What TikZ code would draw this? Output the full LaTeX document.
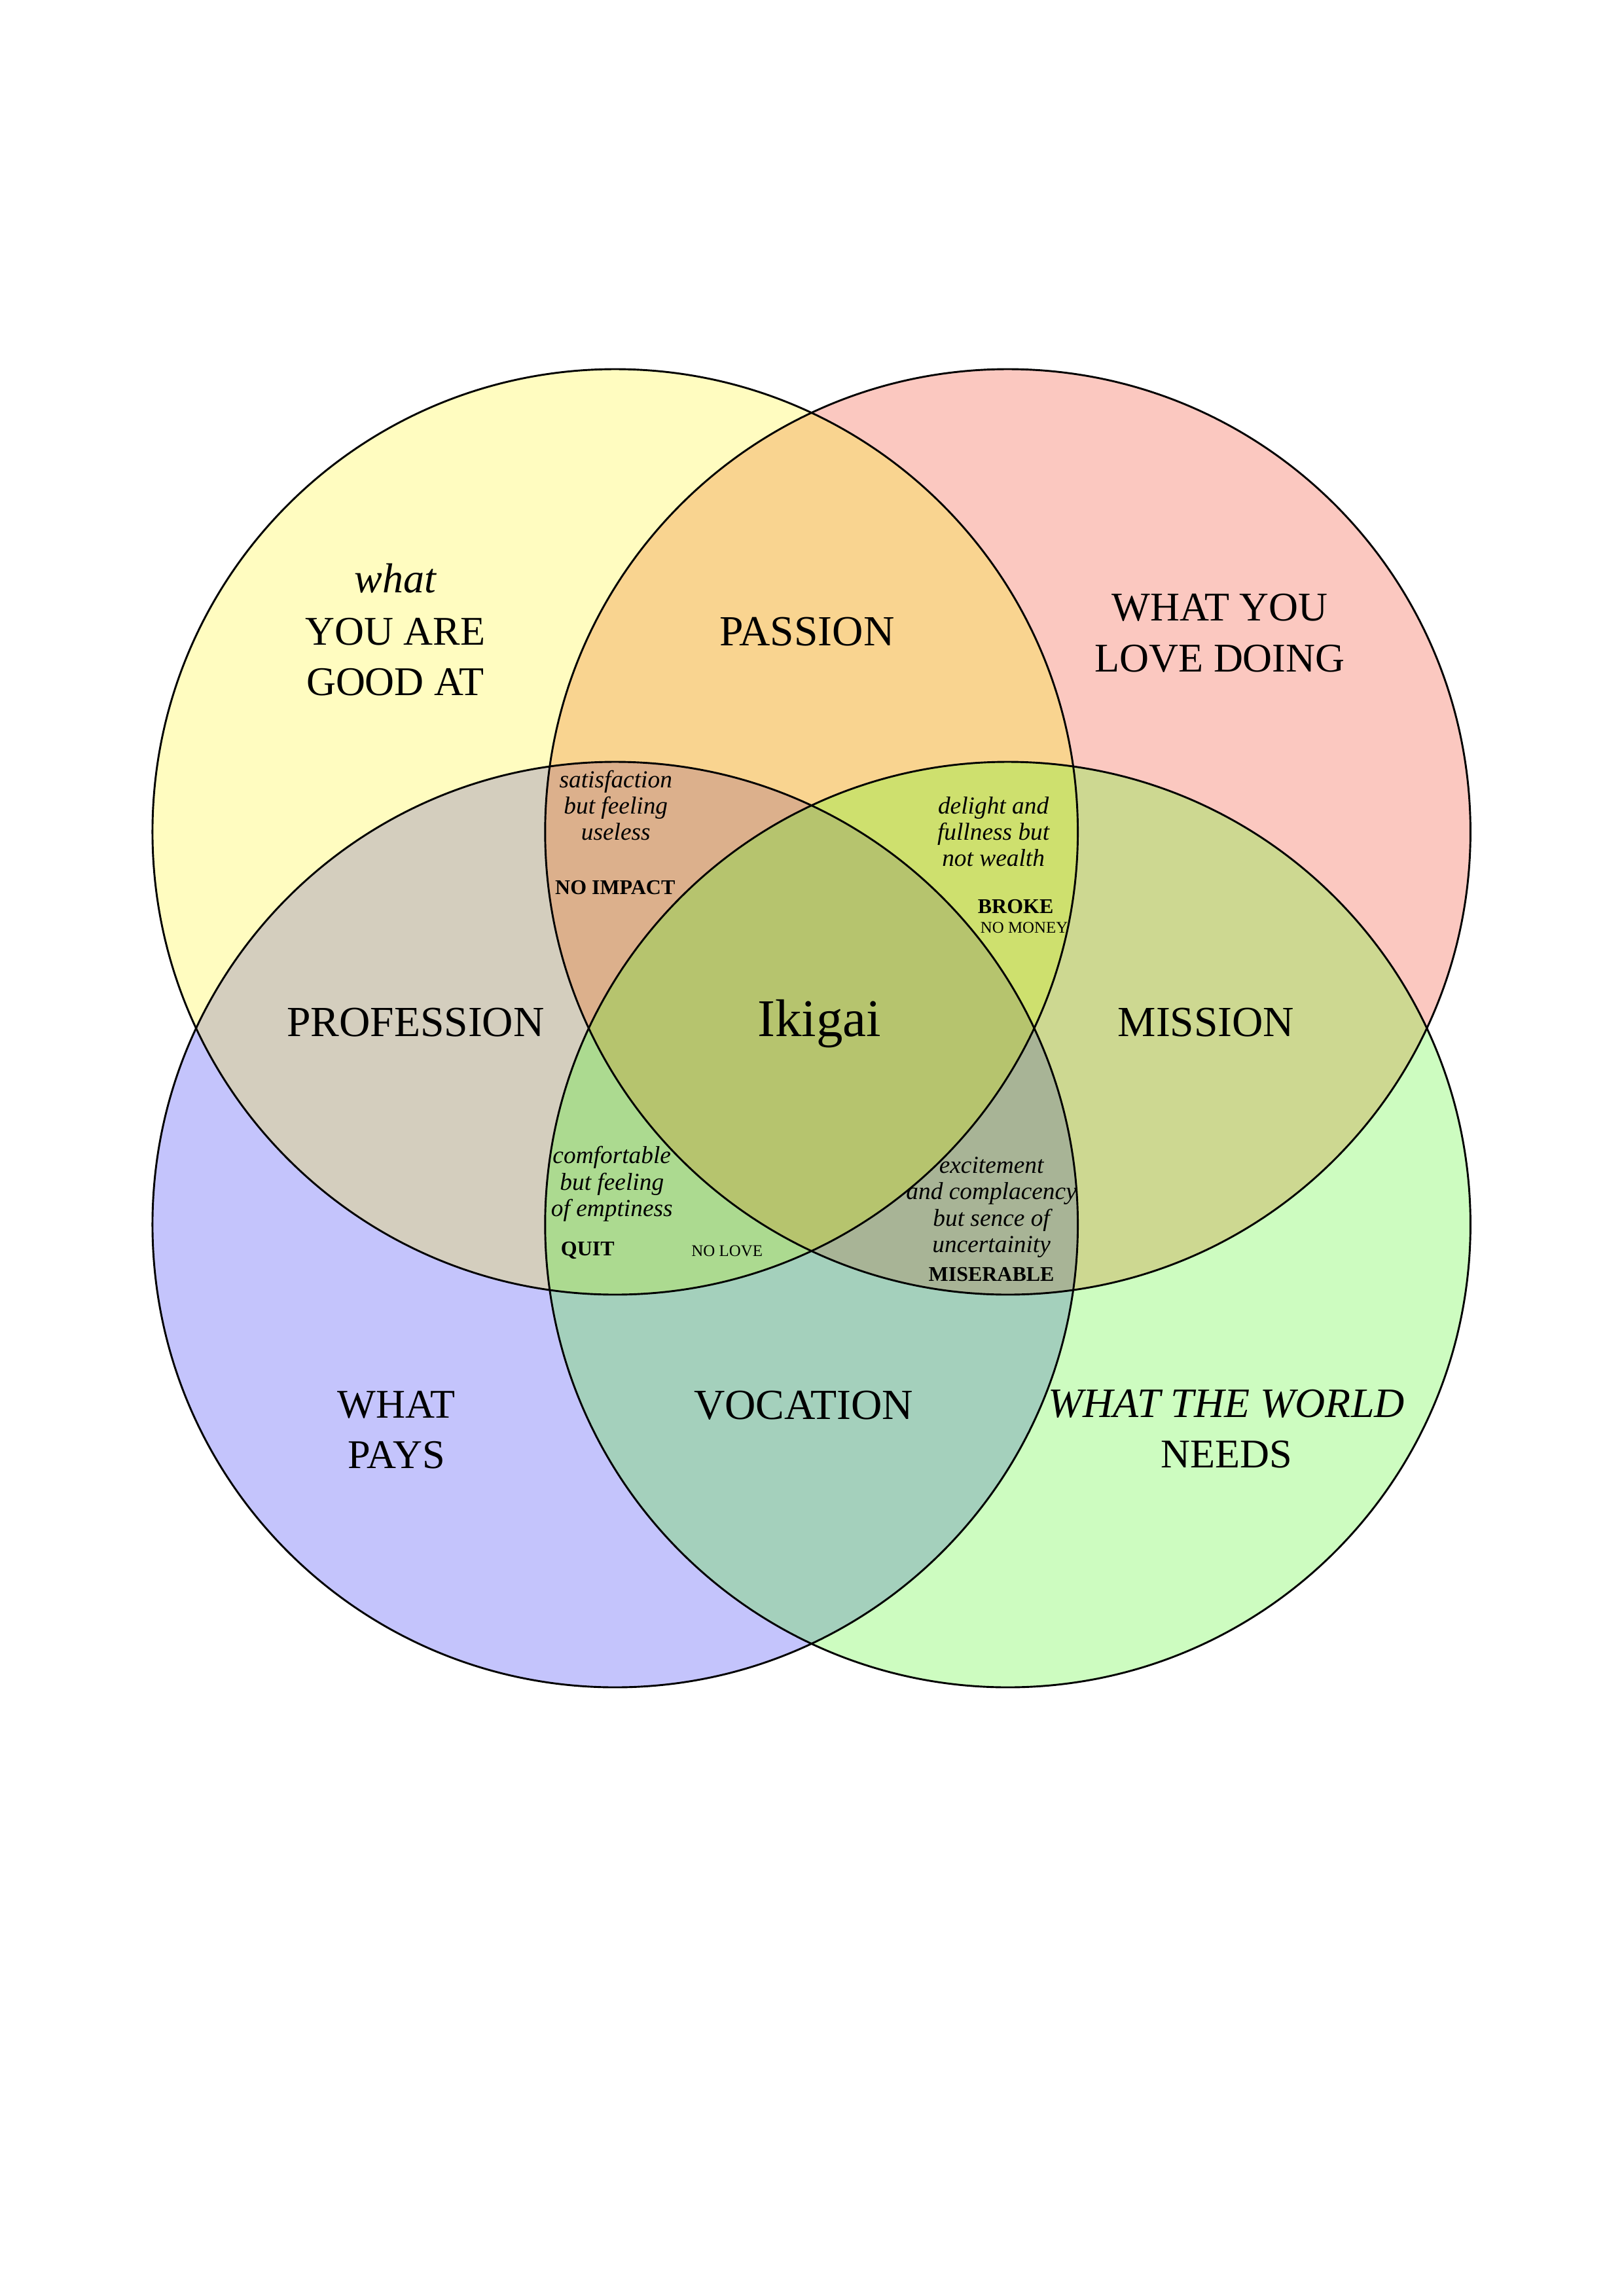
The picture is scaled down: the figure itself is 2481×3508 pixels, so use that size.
\documentclass[tikz,border=0pt]{standalone}
\usepackage{fontspec}
\setmainfont{Liberation Serif}

% region colours
\definecolor{cY}{HTML}{FFFCC0}
\definecolor{cR}{HTML}{FBC8C0}
\definecolor{cB}{HTML}{C4C4FC}
\definecolor{cG}{HTML}{CDFCC0}
\definecolor{cYR}{HTML}{F9D490}
\definecolor{cYB}{HTML}{D4CEBE}
\definecolor{cRG}{HTML}{CDD891}
\definecolor{cBG}{HTML}{A4D0BC}
\definecolor{cYRB}{HTML}{DCB08C}
\definecolor{cYRG}{HTML}{CEE06E}
\definecolor{cYBG}{HTML}{ACDA90}
\definecolor{cRBG}{HTML}{A8B496}
\definecolor{cAll}{HTML}{B6C46E}

\newcommand{\circR}{707}

\tikzset{
  ring/.style={draw=black, line width=0.7pt},
  big/.style={anchor=base, inner sep=0pt, font=\fontsize{15}{18}\selectfont},
  bigit/.style={big, font=\fontsize{15.4}{18}\itshape},
  pair/.style={anchor=base, inner sep=0pt, font=\fontsize{15.8}{19}\selectfont},
  core/.style={anchor=base, inner sep=0pt, font=\fontsize{19.5}{23}\selectfont},
  note/.style={anchor=base, inner sep=0pt, font=\fontsize{9}{11}\itshape},
  verdict/.style={anchor=base, inner sep=0pt, font=\fontsize{7.7}{9}\bfseries},
  lack/.style={anchor=base, inner sep=0pt, font=\fontsize{6}{7}\selectfont},
}

\begin{document}
\begin{tikzpicture}[x=210mm/2481, y=-297mm/3508]
\useasboundingbox (0,0) rectangle (2481,3508);
\fill[white] (0,0) rectangle (2481,3508);

% circle centres
\coordinate (Y) at (940,1271);
\coordinate (R) at (1540,1271);
\coordinate (B) at (940,1871);
\coordinate (G) at (1540,1871);

% single sets
\fill[cY] (Y) circle[radius=\circR];
\fill[cR] (R) circle[radius=\circR];
\fill[cB] (B) circle[radius=\circR];
\fill[cG] (G) circle[radius=\circR];

% pairs
\begin{scope}\clip (Y) circle[radius=\circR]; \fill[cYR] (R) circle[radius=\circR];\end{scope}
\begin{scope}\clip (Y) circle[radius=\circR]; \fill[cYB] (B) circle[radius=\circR];\end{scope}
\begin{scope}\clip (R) circle[radius=\circR]; \fill[cRG] (G) circle[radius=\circR];\end{scope}
\begin{scope}\clip (B) circle[radius=\circR]; \fill[cBG] (G) circle[radius=\circR];\end{scope}

% triples
\begin{scope}\clip (Y) circle[radius=\circR]; \clip (R) circle[radius=\circR]; \fill[cYRB] (B) circle[radius=\circR];\end{scope}
\begin{scope}\clip (Y) circle[radius=\circR]; \clip (R) circle[radius=\circR]; \fill[cYRG] (G) circle[radius=\circR];\end{scope}
\begin{scope}\clip (Y) circle[radius=\circR]; \clip (B) circle[radius=\circR]; \fill[cYBG] (G) circle[radius=\circR];\end{scope}
\begin{scope}\clip (R) circle[radius=\circR]; \clip (B) circle[radius=\circR]; \fill[cRBG] (G) circle[radius=\circR];\end{scope}

% all four
\begin{scope}\clip (Y) circle[radius=\circR]; \clip (R) circle[radius=\circR]; \clip (B) circle[radius=\circR]; \fill[cAll] (G) circle[radius=\circR];\end{scope}

% outlines
\draw[ring] (Y) circle[radius=\circR];
\draw[ring] (R) circle[radius=\circR];
\draw[ring] (B) circle[radius=\circR];
\draw[ring] (G) circle[radius=\circR];

% outer labels
\node[bigit] (good1) at (604,905) {what};
\node[big] (good2) at (604,985) {YOU ARE};
\node[big] (good3) at (604,1062) {GOOD AT};

\node[big] (love1) at (1864,948) {WHAT YOU};
\node[big] (love2) at (1864,1026) {LOVE DOING};

\node[big] (pays1) at (606,2166) {WHAT};
\node[big] (pays2) at (606,2243) {PAYS};

\node[bigit] (needs1) at (1874,2165) {WHAT THE WORLD};
\node[big] (needs2) at (1874,2242) {NEEDS};

% pair labels
\node[pair] (passion) at (1233,986) {PASSION};
\node[pair] (profession) at (635,1583) {PROFESSION};
\node[pair] (mission) at (1843,1583) {MISSION};
\node[pair] (vocation) at (1228,2168) {VOCATION};

% centre
\node[core] (ikigai) at (1252,1583) {Ikigai};

% triple regions
\node[note] (ni1) at (941,1203) {satisfaction};
\node[note] (ni2) at (941,1243) {but feeling};
\node[note] (ni3) at (941,1283) {useless};
\node[verdict] (noimpact) at (940,1366) {NO IMPACT};

\node[note] (br1) at (1518,1243) {delight and};
\node[note] (br2) at (1518,1283) {fullness but};
\node[note] (br3) at (1518,1323) {not wealth};
\node[verdict] (broke) at (1552,1395) {BROKE};
\node[lack] (nomoney) at (1565,1425) {NO MONEY};

\node[note] (qu1) at (935,1777) {comfortable};
\node[note] (qu2) at (935,1818) {but feeling};
\node[note] (qu3) at (935,1858) {of emptiness};
\node[verdict] (quit) at (898,1918) {QUIT};
\node[lack] (nolove) at (1111,1919) {NO LOVE};

\node[note] (mi1) at (1515,1792) {excitement};
\node[note] (mi2) at (1515,1832) {and complacency};
\node[note] (mi3) at (1515,1873) {but sence of};
\node[note] (mi4) at (1515,1913) {uncertainity};
\node[verdict] (miserable) at (1515,1957) {MISERABLE};
\end{tikzpicture}
\end{document}
